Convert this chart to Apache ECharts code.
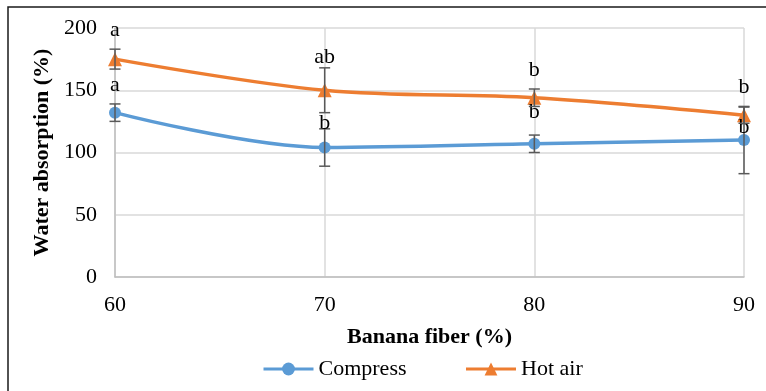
<!DOCTYPE html>
<html>
<head>
<meta charset="utf-8">
<script src="https://cdn.jsdelivr.net/npm/echarts@6/dist/echarts.min.js"></script>
<style>
  html, body { margin: 0; padding: 0; background: #fff; }
  #chart { width: 766px; height: 391px; }
</style>
</head>
<body>
<div id="chart"></div>
<script>
// banana fiber content (%)
const fiber = [60, 70, 80, 90]

// water absorption (%)
const compress = [132, 104, 107, 110]
const hotAir = [175, 150, 144, 130]

// standard deviations (error bars)
const compressErr = [7, 15, 7, 27]
const hotAirErr = [8, 18, 7, 6.5]

// significance letters
const compressLetters = ['a', 'b', 'b', 'b']
const hotAirLetters = ['a', 'ab', 'b', 'b']

// label offset above the point (px)
const compressLabelDy = [-27, -24, -32, -13]
const hotAirLabelDy = [-29, -33, -28, -28]

const FONT = 'Liberation Serif'
const BLUE = '#5B9BD5'
const ORANGE = '#ED7D31'

const chart = echarts.init(document.getElementById('chart'))

// error bars + letters drawn as a custom series
const errSeries = (vals, errs, letters, dys) => ({
  type: 'custom',
  z: 5,
  silent: true,
  data: fiber.map((x, i) => [x, vals[i], errs[i], letters[i], dys[i]]),
  renderItem: (params, api) => {
    const x = api.value(0)
    const v = api.value(1)
    const e = api.value(2)
    const top = api.coord([x, v + e])
    const bot = api.coord([x, v - e])
    const mid = api.coord([x, v])
    const hw = 5.5
    const st = { stroke: '#595959', lineWidth: 1.5 }
    return {
      type: 'group',
      children: [
        { type: 'line', shape: { x1: top[0], y1: top[1], x2: bot[0], y2: bot[1] }, style: st },
        { type: 'line', shape: { x1: top[0] - hw, y1: top[1], x2: top[0] + hw, y2: top[1] }, style: st },
        { type: 'line', shape: { x1: bot[0] - hw, y1: bot[1], x2: bot[0] + hw, y2: bot[1] }, style: st },
        {
          type: 'text',
          style: {
            text: api.value(3),
            x: mid[0],
            y: mid[1] + api.value(4),
            align: 'center',
            verticalAlign: 'middle',
            font: '22px "' + FONT + '"',
            fill: '#000'
          }
        }
      ]
    }
  }
})

chart.setOption({
  animation: false,
  backgroundColor: '#fff',
  textStyle: { fontFamily: FONT },
  graphic: [{
    type: 'rect',
    shape: { x: 8, y: 7, width: 800, height: 500 },
    style: { fill: 'none', stroke: '#1a1a1a', lineWidth: 1.5 },
    z: -1
  }],
  grid: { left: 115, right: 22, top: 28, bottom: 114 },
  legend: {
    data: ['Compress', 'Hot air'],
    top: 353,
    left: 257,
    itemWidth: 50,
    itemHeight: 16,
    itemGap: 58,
    lineStyle: { width: 3 },
    textStyle: { fontFamily: FONT, fontSize: 22, color: '#000' }
  },
  xAxis: {
    type: 'value',
    min: 60,
    max: 90,
    interval: 10,
    name: 'Banana fiber (%)',
    nameLocation: 'middle',
    nameGap: 49,
    nameTextStyle: { fontFamily: FONT, fontSize: 22, fontWeight: 'bold', color: '#000' },
    axisLine: { lineStyle: { color: '#bfbfbf', width: 1.5 } },
    axisTick: { show: false },
    axisLabel: { fontFamily: FONT, fontSize: 22, color: '#000', margin: 17 },
    splitLine: { show: true, lineStyle: { color: '#d9d9d9', width: 1.5 } }
  },
  yAxis: {
    type: 'value',
    min: 0,
    max: 200,
    interval: 50,
    name: 'Water absorption (%)',
    nameLocation: 'middle',
    nameGap: 62,
    nameTextStyle: { fontFamily: FONT, fontSize: 22, fontWeight: 'bold', color: '#000' },
    axisLine: { show: true, lineStyle: { color: '#bfbfbf', width: 1.5 } },
    axisTick: { show: false },
    axisLabel: { fontFamily: FONT, fontSize: 22, color: '#000', margin: 18 },
    splitLine: { show: true, lineStyle: { color: '#d9d9d9', width: 1.5 } }
  },
  series: [
    {
      name: 'Compress',
      type: 'line',
      smooth: 0.35,
      data: fiber.map((x, i) => [x, compress[i]]),
      symbol: 'circle',
      symbolSize: 12,
      itemStyle: { color: BLUE },
      lineStyle: { color: BLUE, width: 3.5 },
      z: 3
    },
    {
      name: 'Hot air',
      type: 'line',
      smooth: 0.35,
      data: fiber.map((x, i) => [x, hotAir[i]]),
      symbol: 'triangle',
      symbolSize: 14,
      itemStyle: { color: ORANGE },
      lineStyle: { color: ORANGE, width: 3.5 },
      z: 3
    },
    errSeries(compress, compressErr, compressLetters, compressLabelDy),
    errSeries(hotAir, hotAirErr, hotAirLetters, hotAirLabelDy)
  ]
})
</script>
</body>
</html>
